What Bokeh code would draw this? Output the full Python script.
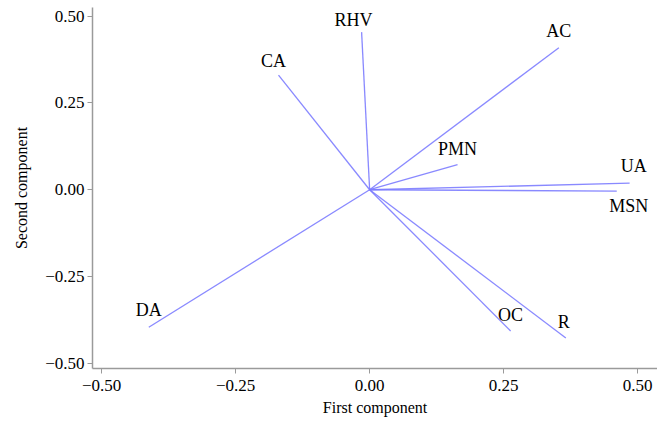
from bokeh.plotting import figure
from bokeh.models import ColumnDataSource, Range1d, FixedTicker
from bokeh.core.properties import value
from bokeh.embed import file_html
from bokeh.resources import INLINE

# Loadings (first component, second component)
variables = ["RHV", "AC", "CA", "PMN", "UA", "MSN", "DA", "OC", "R"]
first_comp = [-0.015, 0.353, -0.170, 0.164, 0.485, 0.461, -0.412, 0.263, 0.366]
second_comp = [0.454, 0.409, 0.330, 0.072, 0.019, -0.004, -0.396, -0.407, -0.427]

tick_values = [-0.5, -0.25, 0.0, 0.25, 0.5]
tick_labels = ["\u22120.50", "\u22120.25", "0.00", "0.25", "0.50"]

# label offsets in screen pixels relative to arrow tip (negative dy = up)
label_dx = [-8, 0, -5, 0, 4, 12, 0, 0, -2]
label_dy = [-12, -17, -14, -16, -17, 15, -17, -16, -16]

serif = "Liberation Serif"

p = figure(width=657, height=418, output_backend="svg", toolbar_location=None,
           x_range=Range1d(-0.517, 0.537), y_range=Range1d(-0.515, 0.525),
           min_border_left=92, min_border_right=0, min_border_top=7, min_border_bottom=46)

src = ColumnDataSource(dict(
    x0=[0.0] * len(variables), y0=[0.0] * len(variables),
    x1=first_comp, y1=second_comp, name=variables,
    dx=label_dx, dy=label_dy))

p.segment(x0="x0", y0="y0", x1="x1", y1="y1", source=src,
          line_color="#7c7cff", line_width=1.3, line_alpha=0.9)
p.text(x="x1", y="y1", text="name", source=src, x_offset="dx", y_offset="dy",
       text_align="center", text_baseline="middle",
       text_font=value(serif), text_font_size="18px", text_color="#000000")

p.xgrid.visible = False
p.ygrid.visible = False
p.outline_line_color = None
p.background_fill_color = "white"

for ax in (p.xaxis[0], p.yaxis[0]):
    ax.ticker = FixedTicker(ticks=tick_values)
    ax.major_label_overrides = {v: l for v, l in zip(tick_values, tick_labels)}
    ax.axis_line_color = "#9a9a9a"
    ax.axis_line_width = 1.5
    ax.major_tick_line_color = "#9a9a9a"
    ax.major_tick_out = 5
    ax.major_tick_in = 0
    ax.minor_tick_line_color = None
    ax.major_label_text_font = serif
    ax.major_label_text_font_size = "17px"
    ax.major_label_text_color = "#000000"
    ax.axis_label_text_font = serif
    ax.axis_label_text_font_size = "16px"
    ax.axis_label_text_font_style = "normal"
    ax.axis_label_text_color = "#000000"

p.xaxis[0].axis_label = "First component"
p.yaxis[0].axis_label = "Second component"
p.xaxis[0].major_label_standoff = 6
p.yaxis[0].major_label_standoff = 3
p.xaxis[0].axis_label_standoff = 5
p.yaxis[0].axis_label_standoff = 12

open("out.html", "w").write(file_html(p, INLINE))
